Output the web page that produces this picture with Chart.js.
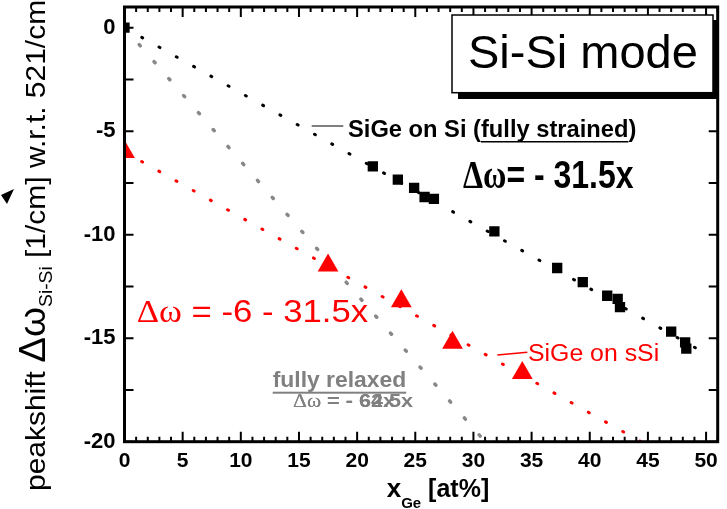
<!DOCTYPE html>
<html>
<head>
<meta charset="utf-8">
<script src="https://cdn.jsdelivr.net/npm/chart.js@4.4.0/dist/chart.umd.min.js"></script>
<style>
  html, body { margin: 0; padding: 0; background: #fff; }
</style>
</head>
<body>
<canvas id="myChart" width="727" height="509"></canvas>
<script>
// SiGe on Si (fully strained), measured
var strainedX = [0, 21.35, 23.5, 24.9, 25.8, 26.6, 31.8, 37.2, 39.4, 41.5, 42.4, 42.6, 47.0, 48.2, 48.3];
var strainedY = [0, -6.70, -7.34, -7.74, -8.18, -8.27, -9.84, -11.61, -12.29, -12.95, -13.1, -13.5, -14.68, -15.2, -15.5];

// SiGe on sSi, measured
var sSiX = [0, 17.5, 23.8, 28.2, 34.2];
var sSiY = [-6.0, -11.49, -13.22, -15.22, -16.68];

// fit lines (end points)
var strainedFitX = [0, 50];
var strainedFitY = [0, -15.75];
var sSiFitX = [0, 44.4];
var sSiFitY = [-6, -20];
var relaxedFitX = [0, 31];
var relaxedFitY = [0, -20];

var xTickLabels = [0, 5, 10, 15, 20, 25, 30, 35, 40, 45, 50];
var yTickLabels = [0, -5, -10, -15, -20];

var SANS = '"Liberation Sans", Arial, sans-serif';
var SERIF = '"Liberation Serif", "Times New Roman", serif';

function pts(xs, ys) {
  return xs.map(function (x, i) { return { x: x, y: ys[i] }; });
}

function richText(ctx, x, y, parts, sx) {
  ctx.save();
  ctx.translate(x, y);
  ctx.scale(sx || 1, 1);
  ctx.textAlign = 'left';
  ctx.textBaseline = 'alphabetic';
  var cx = 0;
  parts.forEach(function (p) {
    ctx.font = p.font;
    ctx.fillStyle = p.color;
    ctx.fillText(p.text, cx, p.dy || 0);
    var w = ctx.measureText(p.text).width;
    if (p.underline) {
      ctx.fillRect(cx, (p.dy || 0) + p.underline, w, p.uw || 1.5);
    }
    cx += w;
  });
  ctx.restore();
}

var frame = {
  id: 'frame',
  afterDatasetsDraw: function (chart) {
    var ctx = chart.ctx, a = chart.chartArea, xs = chart.scales.x, ys = chart.scales.y;
    ctx.save();
    ctx.strokeStyle = '#000';
    ctx.lineWidth = 2;
    ctx.beginPath();
    for (var v = 0; v <= 51; v++) {
      var px = xs.getPixelForValue(v), len = v % 5 === 0 ? 10 : 5;
      ctx.moveTo(px, a.bottom); ctx.lineTo(px, a.bottom - len);
      ctx.moveTo(px, a.top); ctx.lineTo(px, a.top + len);
    }
    for (var w = -20; w <= 0; w += 2.5) {
      var py = ys.getPixelForValue(w);
      ctx.moveTo(a.left, py); ctx.lineTo(a.left + 9, py);
      ctx.moveTo(a.right, py); ctx.lineTo(a.right - 9, py);
    }
    ctx.stroke();
    ctx.lineWidth = 3;
    ctx.strokeRect(a.left, a.top, a.right - a.left, a.bottom - a.top);
    ctx.restore();
  }
};

var notes = {
  id: 'notes',
  afterDraw: function (chart) {
    var ctx = chart.ctx;
    ctx.save();

    // mode box with shadow
    ctx.fillStyle = '#000';
    ctx.fillRect(458, 20, 260, 79);
    ctx.fillStyle = '#fff';
    ctx.fillRect(452, 15, 261, 77.7);
    ctx.strokeStyle = '#000';
    ctx.lineWidth = 1.5;
    ctx.strokeRect(452, 15, 261, 77.7);
    richText(ctx, 468, 68, [{ text: 'Si-Si mode', font: '47px ' + SANS, color: '#000' }]);

    // strained label + leader
    ctx.strokeStyle = '#000';
    ctx.lineWidth = 1;
    ctx.beginPath(); ctx.moveTo(311.7, 126); ctx.lineTo(343.3, 126); ctx.stroke();
    richText(ctx, 348, 137, [
      { text: 'SiGe on Si (', font: 'bold 23px ' + SANS, color: '#000' },
      { text: 'fully strained', font: 'bold 23px ' + SANS, color: '#000', underline: 4, uw: 1.5 },
      { text: ')', font: 'bold 23px ' + SANS, color: '#000' }
    ], 1.03);
    richText(ctx, 463, 188, [
      { text: '\u0394\u03c9', font: 'bold 39px ' + SERIF, color: '#000' },
      { text: '= - 31.5x', font: 'bold 39px ' + SANS, color: '#000' }
    ], 0.82);

    // sSi labels
    richText(ctx, 136.7, 321.7, [
      { text: '\u0394\u03c9', font: '31px ' + SERIF, color: '#ff0000' },
      { text: ' = -6 - 31.5x', font: '31px ' + SANS, color: '#ff0000' }
    ], 1.12);
    ctx.strokeStyle = '#ff0000';
    ctx.lineWidth = 1.5;
    ctx.beginPath(); ctx.moveTo(497.3, 355); ctx.lineTo(527.3, 352.3); ctx.stroke();
    richText(ctx, 528, 360.7, [{ text: 'SiGe on sSi', font: '23px ' + SANS, color: '#ff0000' }], 1.08);

    // relaxed labels
    richText(ctx, 272.7, 386.7, [
      { text: 'fully relaxed', font: 'bold 22px ' + SANS, color: '#808080', underline: 5, uw: 2 }
    ], 1.04);
    richText(ctx, 293, 407, [
      { text: '\u0394\u03c9', font: '18px ' + SERIF, color: '#808080' },
      { text: ' = - 62x', font: 'bold 18px ' + SANS, color: '#808080' }
    ], 1.2);
    richText(ctx, 293, 407, [
      { text: '\u0394\u03c9', font: '18px ' + SERIF, color: '#808080' },
      { text: ' = - 64.5x', font: 'bold 18px ' + SANS, color: '#808080' }
    ], 1.2);

    // x axis title
    richText(ctx, 386.7, 496.7, [
      { text: 'x', font: 'bold 26px ' + SANS, color: '#000' },
      { text: 'Ge', font: 'bold 15px ' + SANS, color: '#000', dy: 11 },
      { text: ' [at%]', font: 'bold 25px ' + SANS, color: '#000' }
    ]);

    // y axis title (rotated)
    ctx.save();
    ctx.translate(45, 491);
    ctx.rotate(-Math.PI / 2);
    richText(ctx, 0, 0, [
      { text: 'peakshift ', font: '28px ' + SANS, color: '#000' },
      { text: '\u0394\u03c9', font: '36px ' + SANS, color: '#000' },
      { text: 'Si-Si', font: '18px ' + SANS, color: '#000', dy: 7 },
      { text: ' [1/cm] w.r.t. 521/cm', font: '28px ' + SANS, color: '#000' }
    ], 1.07);
    ctx.restore();

    // stray arrow head at the left edge
    ctx.fillStyle = '#000';
    ctx.beginPath();
    ctx.moveTo(14, 189); ctx.lineTo(1, 195); ctx.lineTo(7, 204); ctx.closePath();
    ctx.fill();

    ctx.restore();
  }
};

var ctx = document.getElementById('myChart').getContext('2d');
var chart = new Chart(ctx, {
  type: 'scatter',
  data: {
    datasets: [{
      label: 'SiGe on Si',
      data: pts(strainedX, strainedY),
      pointStyle: 'rect',
      pointRadius: 7.3,
      backgroundColor: '#000',
      borderWidth: 0,
      clip: 0
    }, {
      label: 'SiGe on sSi',
      data: pts(sSiX, sSiY),
      pointStyle: 'triangle',
      pointRadius: 12,
      backgroundColor: '#ff0000',
      borderWidth: 0,
      clip: 0
    }, {
      label: 'strained fit',
      data: pts(strainedFitX, strainedFitY),
      showLine: true,
      pointRadius: 0,
      borderColor: '#000',
      borderWidth: 3,
      borderDash: [1, 18.8],
      borderCapStyle: 'round',
      clip: 0
    }, {
      label: 'sSi fit',
      data: pts(sSiFitX, sSiFitY),
      showLine: true,
      pointRadius: 0,
      borderColor: '#ff0000',
      borderWidth: 3,
      borderDash: [1, 18.7],
      borderCapStyle: 'round',
      clip: 0
    }, {
      label: 'relaxed fit',
      data: pts(relaxedFitX, relaxedFitY),
      showLine: true,
      pointRadius: 0,
      borderColor: '#888888',
      borderWidth: 3.5,
      borderDash: [1.5, 21],
      borderCapStyle: 'round',
      clip: 0
    }]
  },
  options: {
    responsive: false,
    animation: false,
    devicePixelRatio: 1,
    layout: { autoPadding: false, padding: { left: 0, right: 9.3, top: 7, bottom: 0 } },
    plugins: {
      legend: { display: false },
      tooltip: { enabled: false }
    },
    scales: {
      x: {
        type: 'linear',
        min: 0,
        max: 51,
        grid: { display: false, drawTicks: false },
        border: { display: false },
        ticks: {
          color: '#000',
          padding: 7,
          font: { family: SANS, size: 21, weight: 'bold' }
        },
        afterBuildTicks: function (s) {
          s.ticks = xTickLabels.map(function (v) { return { value: v }; });
        },
        afterFit: function (s) {
          s.height = 67.3;
          s.paddingLeft = 0;
          s.paddingRight = 0;
        }
      },
      y: {
        type: 'linear',
        min: -20,
        max: 1,
        grid: { display: false, drawTicks: false },
        border: { display: false },
        ticks: {
          color: '#000',
          padding: 9,
          font: { family: SANS, size: 22, weight: 'bold' }
        },
        afterBuildTicks: function (s) {
          s.ticks = yTickLabels.map(function (v) { return { value: v }; });
        },
        afterFit: function (s) {
          s.width = 124.5;
          s.paddingTop = 0;
          s.paddingBottom = 0;
        }
      }
    }
  },
  plugins: [frame, notes]
});
</script>
</body>
</html>
